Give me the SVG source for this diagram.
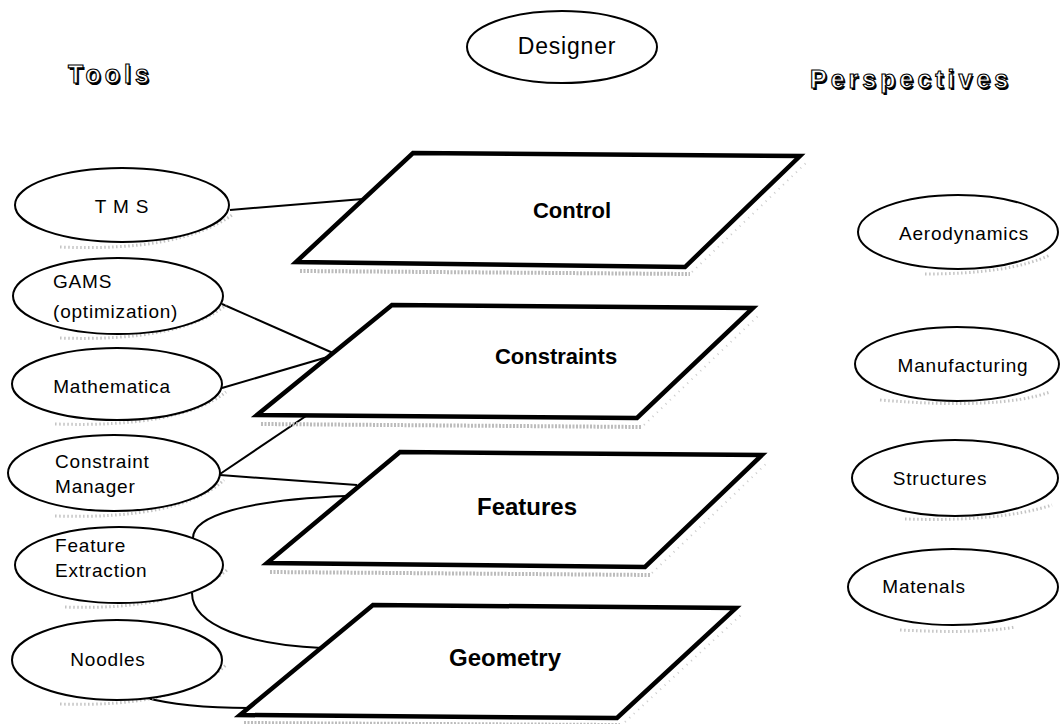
<svg xmlns="http://www.w3.org/2000/svg" width="1060" height="724" viewBox="0 0 1060 724">
<style>
.bg{fill:#fff}
.ell{fill:#fff;stroke:#000;stroke-width:2}
.esh{fill:none;stroke:#c4c4c4;stroke-width:3;stroke-dasharray:1.5 2.5}
.plane{fill:#fff;stroke:#000;stroke-width:4.5;stroke-linejoin:miter}
.psh{fill:none;stroke:#bcbcbc;stroke-width:4;stroke-dasharray:2 1.5}
.psh2{fill:none;stroke:#cccccc;stroke-width:2;stroke-dasharray:1 5}
.lbl{font-family:"Liberation Sans",Arial,sans-serif;font-size:19px;letter-spacing:0.8px;fill:#000}
.pl{font-family:"Liberation Sans",Arial,sans-serif;font-weight:bold;fill:#000;text-anchor:middle}
.ttl{font-family:"Liberation Sans",Arial,sans-serif;font-weight:bold;font-size:25px;letter-spacing:4px}
.ttlsh{fill:#000}
.ttlfg{fill:#fff;stroke:#000;stroke-width:1.1}
.con{fill:none;stroke:#000;stroke-width:2}
.mid{text-anchor:middle}
</style>
<rect class="bg" x="0" y="0" width="1060" height="724"/>

<g id="title-tools">
<text class="ttl ttlsh" x="69.5" y="84.5">Tools</text>
<text class="ttl ttlfg" x="68" y="83">Tools</text>
</g>
<g id="title-perspectives">
<text class="ttl ttlsh" x="811.5" y="89.5">Perspectives</text>
<text class="ttl ttlfg" x="810" y="88">Perspectives</text>
</g>

<g id="designer">
<ellipse class="ell" cx="562" cy="47" rx="95" ry="36"/>
<text class="lbl mid" x="567" y="54" style="font-size:23px">Designer</text>
</g>

<g id="connectors">
<path class="con" d="M230,210 L363,199"/>
<path class="con" d="M222,304 L333,353"/>
<path class="con" d="M222,388 L331,356"/>
<path class="con" d="M220,474 L309,414"/>
<path class="con" d="M220,475 L357,485"/>
<path class="con" d="M193,538 C193,516 245,500 346,496"/>
<path class="con" d="M192,593 C192,626 250,645 322,648"/>
<path class="con" d="M143,697 C172,705 212,708 249,708"/>
</g>

<g id="plane-control">
<path class="psh" d="M300,271 L690,274"/>
<path class="psh2" d="M692,272 L806,163"/>
<polygon class="plane" points="413,153 800,156 685,267 296,262"/>
<text class="pl" x="572" y="218" font-size="22">Control</text>
</g>
<g id="plane-constraints">
<path class="psh" d="M261,424 L642,427"/>
<path class="psh2" d="M644,425 L759,315"/>
<polygon class="plane" points="392,305 753,308 637,418 257,415"/>
<text class="pl" x="556" y="364" font-size="22">Constraints</text>
</g>
<g id="plane-features">
<path class="psh" d="M270,572 L650,575"/>
<path class="psh2" d="M652,573 L768,462"/>
<polygon class="plane" points="400,452 762,455 645,567 267,563"/>
<text class="pl" x="527" y="515" font-size="24">Features</text>
</g>
<g id="plane-geometry">
<path class="psh" d="M244,723 L620,725"/>
<path class="psh2" d="M625,722 L742,614"/>
<polygon class="plane" points="373,605 736,608 617,718 240,715"/>
<text class="pl" x="505" y="666" font-size="24">Geometry</text>
</g>

<g id="tool-tms">
<path class="esh" d="M60,247 Q180,252 232,215"/>
<ellipse class="ell" cx="122" cy="205" rx="107" ry="37"/>
<text class="lbl mid" x="122" y="213">T M S</text>
</g>
<g id="tool-gams">
<path class="esh" d="M60,338 Q180,342 226,305"/>
<ellipse class="ell" cx="118" cy="296" rx="105" ry="38"/>
<text class="lbl" x="53" y="288">GAMS</text>
<text class="lbl" x="53" y="318">(optimization)</text>
</g>
<g id="tool-mathematica">
<path class="esh" d="M55,424 Q180,428 226,392"/>
<ellipse class="ell" cx="117" cy="384" rx="105" ry="36"/>
<text class="lbl mid" x="112" y="393">Mathematica</text>
</g>
<g id="tool-constraint-manager">
<path class="esh" d="M55,516 Q180,520 224,480"/>
<ellipse class="ell" cx="114" cy="473" rx="106" ry="38"/>
<text class="lbl" x="55" y="468">Constraint</text>
<text class="lbl" x="55" y="493">Manager</text>
</g>
<g id="tool-feature-extraction">
<path class="esh" d="M65,607 Q180,611 227,570"/>
<ellipse class="ell" cx="119" cy="565" rx="104" ry="38"/>
<text class="lbl" x="55" y="552">Feature</text>
<text class="lbl" x="55" y="577">Extraction</text>
</g>
<g id="tool-noodles">
<path class="esh" d="M60,704 Q180,708 226,665"/>
<ellipse class="ell" cx="117" cy="660" rx="105" ry="40"/>
<text class="lbl mid" x="108" y="666">Noodles</text>
</g>

<g id="persp-aerodynamics">
<path class="esh" d="M925,274 Q1010,274 1050,255"/>
<ellipse class="ell" cx="958" cy="232" rx="100" ry="37"/>
<text class="lbl mid" x="964" y="240">Aerodynamics</text>
</g>
<g id="persp-manufacturing">
<path class="esh" d="M880,400 Q1000,410 1050,392"/>
<ellipse class="ell" cx="957" cy="364" rx="102" ry="37"/>
<text class="lbl mid" x="963" y="372">Manufacturing</text>
</g>
<g id="persp-structures">
<path class="esh" d="M905,519 Q1000,522 1052,505"/>
<ellipse class="ell" cx="955" cy="478" rx="103" ry="38"/>
<text class="lbl mid" x="940" y="485">Structures</text>
</g>
<g id="persp-materials">
<path class="esh" d="M900,630 Q980,634 1015,627"/>
<ellipse class="ell" cx="953" cy="587" rx="105" ry="38"/>
<text class="lbl mid" x="924" y="593">Matenals</text>
</g>
</svg>
